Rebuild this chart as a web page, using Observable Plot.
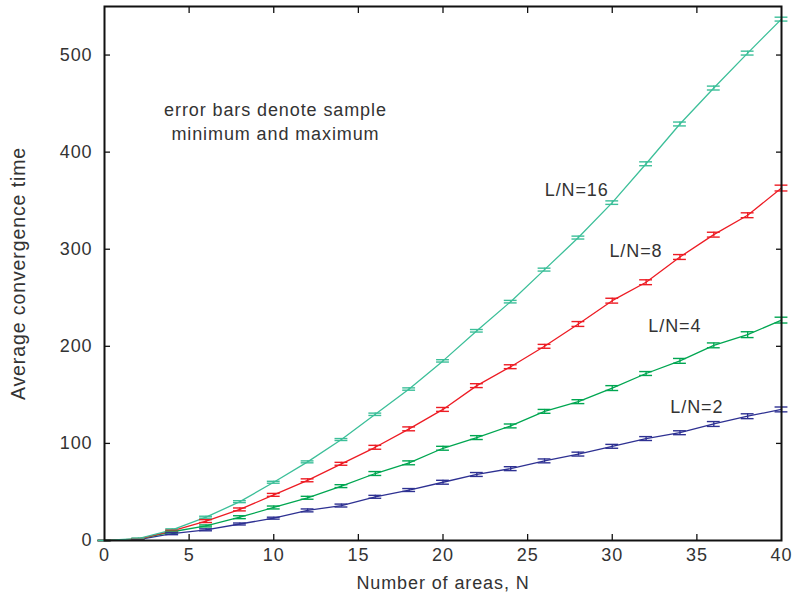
<!DOCTYPE html>
<html>
<head>
<meta charset="utf-8">
<script src="https://cdn.jsdelivr.net/npm/d3@7"></script>
<script src="https://cdn.jsdelivr.net/npm/@observablehq/plot@0.6"></script>
<style>
  html, body { margin: 0; padding: 0; background: #fff; }
</style>
</head>
<body>
<div id="chart"></div>
<script>
// ---- data ----
const areas = [0, 2, 4, 6, 8, 10, 12, 14, 16, 18, 20, 22, 24, 26, 28, 30, 32, 34, 36, 38, 40];
const seriesNames = ["L/N=2", "L/N=4", "L/N=8", "L/N=16"];
const timeL2  = [0, 1, 7, 11, 17, 23, 31, 36, 45, 52, 60, 68, 74, 82, 89, 97, 105, 111, 120, 128, 135];
const timeL4  = [0, 1.5, 9, 15, 24, 34, 44, 56, 69, 80, 95, 106, 118, 133, 143, 157, 172, 185, 201, 212, 227];
const timeL8  = [0, 1.5, 10, 20, 32, 47, 62, 79, 96, 115, 135, 159.5, 179, 200, 223, 247, 266, 292, 315, 335, 363];
const timeL16 = [0, 2, 11, 24, 40, 60, 81, 104, 130, 156, 185, 216, 246, 279, 312, 348, 388, 429, 466, 502, 537];
// half-range of the min/max error bars
const errL2  = [0, 0.5, 1, 1, 1, 1, 1.5, 1.5, 1.5, 1.5, 2, 2, 2, 2, 2, 2, 2, 2, 2.5, 2.5, 2.5];
const errL4  = [0, 0.5, 1, 1, 1.5, 1.5, 1.5, 1.5, 2, 2, 2, 2, 2, 2, 2, 2.5, 2, 2.5, 2.5, 3, 3];
const errL8  = [0, 0.5, 1, 1.5, 1.5, 1.5, 1.5, 1.5, 2, 2, 2, 2, 2, 2, 2.5, 2.5, 2.5, 2.5, 2.5, 2.5, 3];
const errL16 = [0, 0.5, 1, 1, 1, 1, 1, 1, 1.2, 1.2, 1.2, 1.3, 1.3, 1.5, 1.5, 1.8, 2, 2, 2, 2, 2];
const xTickLabels = [0, 5, 10, 15, 20, 25, 30, 35, 40];
const yTickLabels = [0, 100, 200, 300, 400, 500];
const xInnerTicks = [5, 10, 15, 20, 25, 30, 35];
const yInnerTicks = [100, 200, 300, 400, 500];
const seriesColors = ["#2e3192", "#00a651", "#ed1c24", "#3cbf99"];
// annotation labels (series name, N, time)
const labelN = [35.0, 33.7, 31.4, 27.9];
const labelT = [137, 221, 297.6, 361];
const noteText = "error bars denote sample\nminimum and maximum";

// ---- build table ----
const allTimes = [timeL2, timeL4, timeL8, timeL16];
const allErrs = [errL2, errL4, errL8, errL16];
const rows = [];
seriesNames.forEach((s, si) => {
  areas.forEach((n, i) => {
    rows.push({series: s, N: n, t: allTimes[si][i], lo: allTimes[si][i] - allErrs[si][i], hi: allTimes[si][i] + allErrs[si][i]});
  });
});
const labels = seriesNames.map((s, i) => ({series: s, N: labelN[i], t: labelT[i]}));
const capW = 0.38;
const ink = "#333";

const chart = Plot.plot({
  width: 794,
  height: 602,
  marginLeft: 104,
  marginRight: 13,
  marginTop: 6,
  marginBottom: 62,
  style: {fontFamily: "'Liberation Sans', Arial, sans-serif", fontSize: "18px", color: ink, background: "#fff", letterSpacing: "0.9px"},
  x: {domain: [0, 40], label: null},
  y: {domain: [0, 550], label: null},
  color: {domain: seriesNames, range: seriesColors},
  marks: [
    Plot.line(rows, {x: "N", y: "t", z: "series", stroke: "series", strokeWidth: 1.3}),
    Plot.ruleX(rows, {x: "N", y1: "lo", y2: "hi", stroke: "series", strokeWidth: 1.3}),
    Plot.ruleY(rows, {y: "lo", x1: d => d.N - capW, x2: d => d.N + capW, stroke: "series", strokeWidth: 1.4}),
    Plot.ruleY(rows, {y: "hi", x1: d => d.N - capW, x2: d => d.N + capW, stroke: "series", strokeWidth: 1.4}),
    Plot.text(labels, {x: "N", y: "t", text: "series", fill: ink, fontSize: 18}),
    Plot.text([noteText], {x: 10.1, y: 432.6, text: d => d, fill: ink, fontSize: 18, lineHeight: 1.35, textAnchor: "middle"}),
    Plot.axisX(xTickLabels, {anchor: "bottom", tickSize: 0, tickPadding: 8, label: null, fill: ink}),
    Plot.axisX(xInnerTicks, {anchor: "bottom", tickSize: -6, text: null, label: null, stroke: "#111", strokeWidth: 1.3}),
    Plot.axisX(xInnerTicks, {anchor: "top", tickSize: -6, text: null, label: null, stroke: "#111", strokeWidth: 1.3}),
    Plot.axisY(yTickLabels, {anchor: "left", tickSize: 0, tickPadding: 12, label: null, fill: ink}),
    Plot.axisY(yInnerTicks, {anchor: "left", tickSize: -6, text: null, label: null, stroke: "#111", strokeWidth: 1.3}),
    Plot.axisY(yInnerTicks, {anchor: "right", tickSize: -6, text: null, label: null, stroke: "#111", strokeWidth: 1.3}),
    Plot.text(["Average convergence time"], {frameAnchor: "left", textAnchor: "middle", rotate: -90, dx: -86, fill: ink, fontSize: 19.5}),
    Plot.text(["Number of areas, N"], {frameAnchor: "bottom", textAnchor: "middle", dy: 48, fill: ink, fontSize: 18}),
    Plot.frame({stroke: "#111", strokeWidth: 2})
  ]
});
document.getElementById("chart").appendChild(chart);
</script>
</body>
</html>
